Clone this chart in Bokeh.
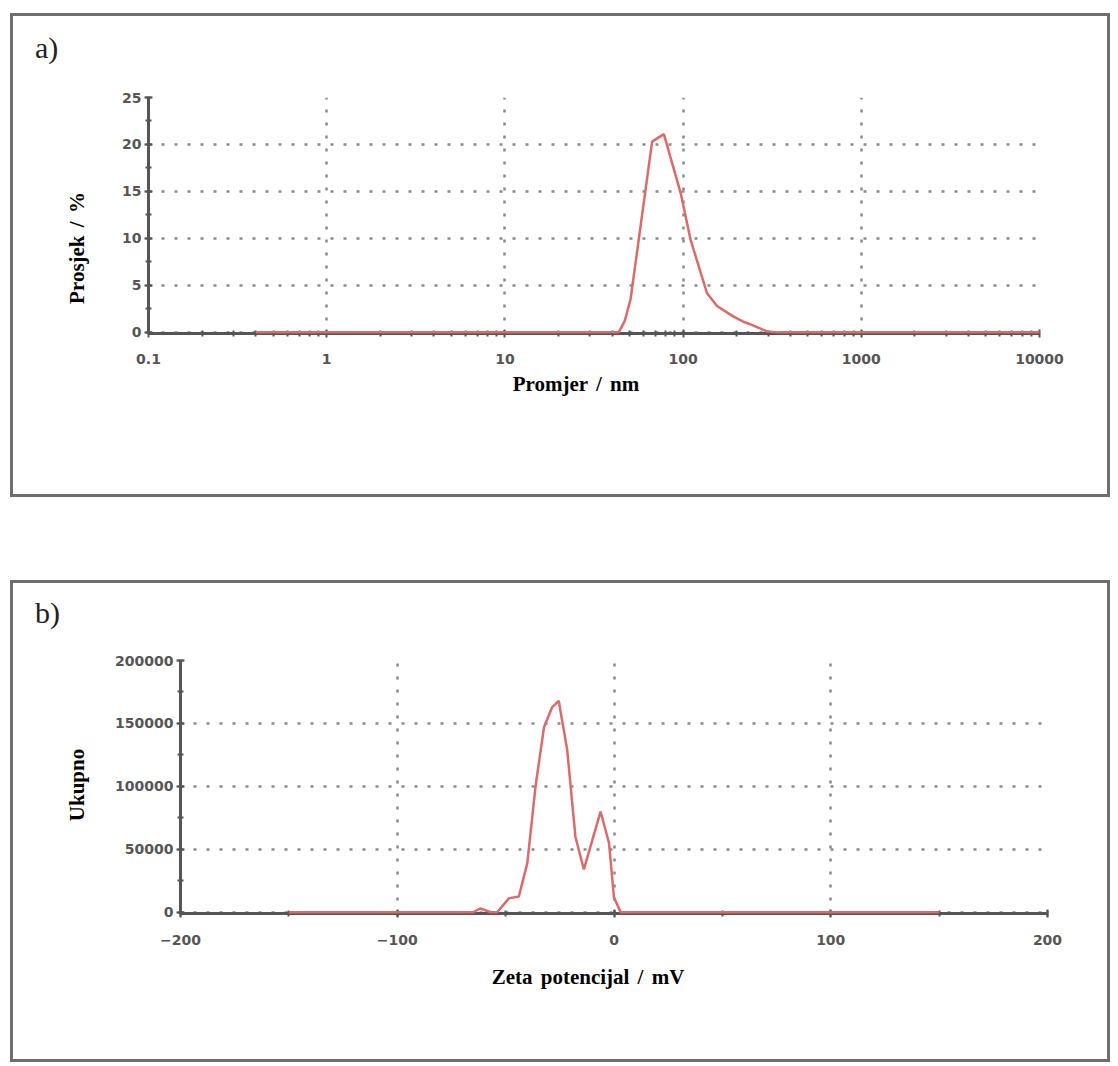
from bokeh.plotting import figure
from bokeh.models import FixedTicker, SingleIntervalTicker, BasicTickFormatter, Div
from bokeh.embed import file_html
from bokeh.resources import INLINE

# ---- data: panel a (size distribution) ----
a_diameter_nm = [0.4, 43.5, 47, 50.7, 58, 67, 78, 97, 110, 136, 155, 191, 220, 239, 296, 342, 10000]
a_percent = [0, 0, 1.2, 3.5, 11.6, 20.3, 21.1, 14.8, 9.9, 4.2, 2.8, 1.7, 1.1, 0.85, 0.1, 0, 0]
a_xticks = [0.1, 1, 10, 100, 1000, 10000]
a_xtick_labels = ["0.1", "1", "10", "100", "1000", "10000"]

# ---- data: panel b (zeta potential) ----
b_zeta_mV = [-150, -65, -61.6, -57, -53.9, -48.5, -43.9, -40.0, -36.2, -32.3, -28.5,
             -25.5, -21.6, -17.8, -13.9, -6.2, -2.3, 0, 3.1, 150]
b_total = [0, 0, 3000, 0, 0, 11000, 12500, 39000, 100000, 147000, 163000,
           168000, 129000, 60000, 34000, 80000, 55000, 11500, 0, 0]

RED = "#d96b6b"
AXIS = "#555555"
GRID = "#8a8a8a"
BOX = "3px solid #6e6e6e"


def style(p, x_tick_standoff):
    p.outline_line_color = None
    p.background_fill_color = "white"
    p.border_fill_color = "white"
    for ax in (p.xaxis[0], p.yaxis[0]):
        ax.axis_line_color = AXIS
        ax.axis_line_width = 3
        ax.major_tick_line_color = AXIS
        ax.major_tick_line_width = 2
        ax.minor_tick_line_color = AXIS
        ax.minor_tick_line_width = 2
        ax.major_tick_in = 4
        ax.major_tick_out = 4
        ax.minor_tick_in = 3
        ax.minor_tick_out = 3
        ax.major_label_text_font = "DejaVu Sans"
        ax.major_label_text_font_style = "bold"
        ax.major_label_text_font_size = "14px"
        ax.major_label_text_color = "#555555"
    p.xaxis.major_label_standoff = x_tick_standoff
    p.yaxis.major_label_standoff = 3
    for g in (p.xgrid[0], p.ygrid[0]):
        g.grid_line_color = GRID
        g.grid_line_dash = "3 10"
        g.grid_line_width = 2.5
    p.styles = {"border": BOX, "box-sizing": "border-box"}


def panel_label(s, left, top):
    return Div(text=s, styles={"position": "absolute", "left": f"{left}px", "top": f"{top}px",
                               "font-family": "Liberation Serif", "font-size": "30px",
                               "color": "#222222", "line-height": "34px", "margin": "0"})


def axis_title(s, cx, cy, rotate=False):
    tr = "translate(-50%, -50%)" + (" rotate(-90deg)" if rotate else "")
    return Div(text=s, styles={"position": "absolute", "left": f"{cx}px", "top": f"{cy}px",
                               "transform": tr, "white-space": "nowrap",
                               "font-family": "Liberation Serif", "font-size": "21px",
                               "font-weight": "bold", "word-spacing": "3px",
                               "color": "black", "line-height": "24px", "margin": "0"})


# ---------- panel a ----------
pa = figure(width=1100, height=484, x_axis_type="log", x_range=(0.1, 10000), y_range=(-0.12, 25),
            output_backend="svg", toolbar_location=None,
            min_border_left=135, min_border_right=74, min_border_top=81, min_border_bottom=167)
style(pa, 16)
minor_a = [m * d for d in [0.1, 1, 10, 100, 1000] for m in range(2, 10)]
pa.xaxis.ticker = FixedTicker(ticks=a_xticks, minor_ticks=minor_a)
pa.xaxis.major_label_overrides = {t: l for t, l in zip(a_xticks, a_xtick_labels)}
pa.yaxis.ticker = SingleIntervalTicker(interval=5, num_minor_ticks=2)
pa.line(a_diameter_nm, a_percent, line_color=RED, line_width=2.5, level="overlay")
pa.margin = (13, 0, 0, 10)

# ---------- panel b ----------
pb = figure(width=1100, height=482, x_range=(-200, 200), y_range=(-1000, 200000),
            output_backend="svg", toolbar_location=None,
            min_border_left=167, min_border_right=66, min_border_top=77, min_border_bottom=152)
style(pb, 17)
pb.xaxis.ticker = SingleIntervalTicker(interval=100, num_minor_ticks=2)
pb.yaxis.ticker = SingleIntervalTicker(interval=50000, num_minor_ticks=2)
pb.yaxis.formatter = BasicTickFormatter(use_scientific=False)
pb.line(b_zeta_mV, b_total, line_color=RED, line_width=2.5, level="overlay")
pb.margin = (83, 0, 0, 10)

labels = [
    panel_label("a)", 35, 31),
    panel_label("b)", 35, 596),
    axis_title("Promjer / nm", 576, 384),
    axis_title("Prosjek / %", 77, 248, rotate=True),
    axis_title("Zeta potencijal / mV", 588, 977),
    axis_title("Ukupno", 77, 785, rotate=True),
]

open("out.html", "w").write(file_html([pa, pb] + labels, INLINE))
